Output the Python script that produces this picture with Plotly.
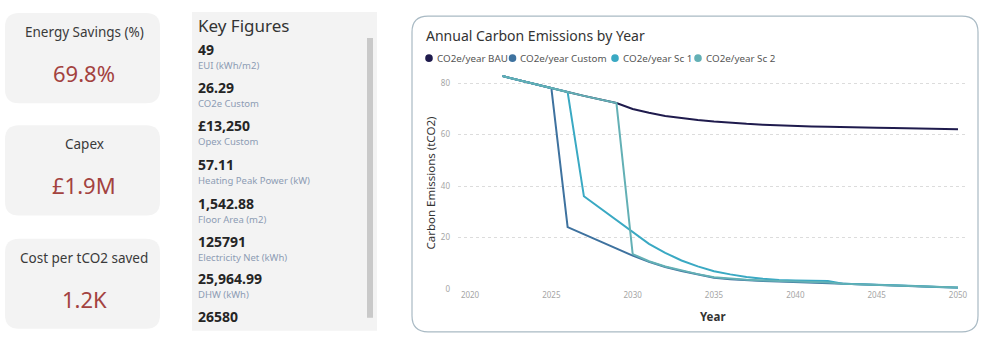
import plotly.graph_objects as go

# ---- data ----
years = list(range(2022, 2051))
co2_bau = [82.8, 81.2, 79.6, 78.1, 76.6, 75.1, 73.7, 72.3, 70.0, 68.5, 67.3, 66.4, 65.7, 65.1,
           64.6, 64.2, 63.9, 63.6, 63.4, 63.2, 63.1, 62.9, 62.8, 62.7, 62.6, 62.5, 62.4, 62.2, 62.1]
co2_custom = [82.8, 81.2, 79.6, 78.1, 24.0, 21.2, 18.5, 15.7, 12.9, 10.5, 8.5, 6.9, 5.5, 4.3,
              3.7, 3.3, 3.0, 2.8, 2.6, 2.4, 2.2, 1.8, 1.6, 1.4, 1.2, 1.0, 0.8, 0.6, 0.4]
co2_sc1 = [82.8, 81.2, 79.6, 78.1, 76.6, 36.0, 31.3, 26.7, 22.0, 17.5, 14.0, 11.0, 8.7, 6.8,
           5.6, 4.6, 3.9, 3.4, 3.2, 3.1, 3.0, 1.9, 1.8, 1.6, 1.4, 1.2, 0.9, 0.6, 0.4]
co2_sc2 = [82.8, 81.2, 79.6, 78.1, 76.6, 75.1, 73.7, 72.3, 13.5, 10.7, 8.7, 7.1, 5.7, 4.5,
           3.9, 3.5, 3.2, 3.0, 2.8, 2.6, 2.4, 1.9, 1.7, 1.5, 1.3, 1.1, 0.9, 0.7, 0.5]

series_names = ["CO2e/year BAU", "CO2e/year Custom", "CO2e/year Sc 1", "CO2e/year Sc 2"]
series_values = [co2_bau, co2_custom, co2_sc1, co2_sc2]
series_colors = ["#1f1b4d", "#3e729f", "#3aa9c3", "#63b0b5"]

x_ticks = [2020, 2025, 2030, 2035, 2040, 2045, 2050]
y_ticks = [0, 20, 40, 60, 80]

kpi_titles = ["Energy Savings (%)", "Capex", "Cost per tCO2 saved"]
kpi_values = ["69.8%", "£1.9M", "1.2K"]

key_values = ["49", "26.29", "£13,250", "57.11", "1,542.88", "125791", "25,964.99", "26580"]
key_labels = ["EUI (kWh/m2)", "CO2e Custom", "Opex Custom", "Heating Peak Power (kW)",
              "Floor Area (m2)", "Electricity Net (kWh)", "DHW (kWh)", ""]

W, H = 1000, 347
SX, SY = 0.997, 0.983   # page-to-screenshot scale of the layout grid
FONT = "Noto Sans"


def px(x):
    return x / (W * SX)


def py(y):
    return 1 - y / (H * SY)


def rounded_rect(x0, y0, x1, y1, r):
    """SVG path (paper coords) for a rectangle with rounded corners, given in pixels."""
    pts = [
        f"M {px(x0 + r)} {py(y0)}",
        f"L {px(x1 - r)} {py(y0)}",
        f"Q {px(x1)} {py(y0)} {px(x1)} {py(y0 + r)}",
        f"L {px(x1)} {py(y1 - r)}",
        f"Q {px(x1)} {py(y1)} {px(x1 - r)} {py(y1)}",
        f"L {px(x0 + r)} {py(y1)}",
        f"Q {px(x0)} {py(y1)} {px(x0)} {py(y1 - r)}",
        f"L {px(x0)} {py(y0 + r)}",
        f"Q {px(x0)} {py(y0)} {px(x0 + r)} {py(y0)}",
        "Z",
    ]
    return " ".join(pts)


fig = go.Figure()

for name, vals, col in zip(series_names, series_values, series_colors):
    fig.add_trace(go.Scatter(x=years, y=vals, mode="lines", name=name,
                             line=dict(color=col, width=2), showlegend=False))

shapes = []
annotations = []

# ---- KPI cards ----
card_tops = [13, 125, 238]
for top, title, value in zip(card_tops, kpi_titles, kpi_values):
    shapes.append(dict(type="path", xref="paper", yref="paper",
                       path=rounded_rect(5, top, 160, top + 90, 14),
                       fillcolor="#f3f3f3", line=dict(width=0), layer="below"))
    annotations.append(dict(x=px(84), y=py(top + 19), xref="paper", yref="paper",
                            text=title, showarrow=False, xanchor="center", yanchor="middle",
                            font=dict(family=FONT, size=13.5, color="#3a3a3a")))
    annotations.append(dict(x=px(84), y=py(top + 60), xref="paper", yref="paper",
                            text=value, showarrow=False, xanchor="center", yanchor="middle",
                            font=dict(family=FONT, size=22, color="#a3423f")))

# ---- Key figures panel ----
shapes.append(dict(type="rect", xref="paper", yref="paper",
                   x0=px(192), x1=px(377), y0=py(330), y1=py(12),
                   fillcolor="#f3f3f3", line=dict(width=0), layer="below"))
shapes.append(dict(type="rect", xref="paper", yref="paper",
                   x0=px(367), x1=px(373), y0=py(317), y1=py(38),
                   fillcolor="#c9c9c9", line=dict(width=0), layer="below"))
annotations.append(dict(x=px(196), y=py(25), xref="paper", yref="paper",
                        text="Key Figures", showarrow=False, xanchor="left", yanchor="middle",
                        font=dict(family=FONT, size=17, color="#333333")))
value_rows = [49, 87, 125, 164, 203, 241, 278, 316]
for yv, val, lab in zip(value_rows, key_values, key_labels):
    annotations.append(dict(x=px(196), y=py(yv), xref="paper", yref="paper",
                            text=f"<b>{val}</b>", showarrow=False, xanchor="left",
                            yanchor="middle",
                            font=dict(family=FONT, size=14, color="#252525")))
    if lab:
        annotations.append(dict(x=px(196), y=py(yv + 16), xref="paper", yref="paper",
                                text=lab, showarrow=False, xanchor="left", yanchor="middle",
                                font=dict(family=FONT, size=9.5, color="#8d9cb3")))

# ---- chart card ----
shapes.append(dict(type="path", xref="paper", yref="paper",
                   path=rounded_rect(412, 16, 978, 331, 16),
                   fillcolor="rgba(0,0,0,0)", line=dict(color="#a9bac4", width=1.2),
                   layer="below"))
annotations.append(dict(x=px(424), y=py(35), xref="paper", yref="paper",
                        text="Annual Carbon Emissions by Year", showarrow=False,
                        xanchor="left", yanchor="middle",
                        font=dict(family=FONT, size=14, color="#333333")))

# legend: coloured dots followed by series names
legend_dot_x = [429, 512.5, 615, 698]
for dx, name, col in zip(legend_dot_x, series_names, series_colors):
    shapes.append(dict(type="circle", xref="paper", yref="paper",
                       x0=px(dx - 3.8), x1=px(dx + 3.8), y0=py(58 + 3.8), y1=py(58 - 3.8),
                       fillcolor=col, line=dict(width=0)))
    annotations.append(dict(x=px(dx + 5.5), y=py(58), xref="paper", yref="paper",
                            text=name, showarrow=False, xanchor="left", yanchor="middle",
                            font=dict(family=FONT, size=9.8, color="#555555")))

annotations.append(dict(x=px(430), y=py(183), xref="paper", yref="paper",
                        text="Carbon Emissions (tCO2)", showarrow=False, textangle=-90,
                        xanchor="center", yanchor="middle",
                        font=dict(family=FONT, size=11.5, color="#333333")))
annotations.append(dict(x=px(713), y=py(316), xref="paper", yref="paper",
                        text="<b>Year</b>", showarrow=False, xanchor="center", yanchor="middle",
                        font=dict(family=FONT, size=11.5, color="#333333")))

fig.update_layout(
    width=W, height=H,
    margin=dict(l=0, r=0, t=0, b=0),
    paper_bgcolor="white", plot_bgcolor="white",
    shapes=shapes, annotations=annotations,
    xaxis=dict(domain=[px(458), px(965)], range=[2019.26, 2050.43],
               tickvals=x_ticks, showgrid=False, zeroline=False, showline=False,
               ticks="", tickfont=dict(family=FONT, size=8, color="#a5a5a5")),
    yaxis=dict(domain=[py(288), py(70)], range=[0, 85.1], tickvals=y_ticks,
               showgrid=True, gridcolor="#dcdcdc", griddash="dot", gridwidth=1,
               zeroline=False, showline=False, ticks="", ticklabelstandoff=7,
               tickfont=dict(family=FONT, size=8, color="#a5a5a5")),
    showlegend=False,
)

fig.write_html("out.html")
